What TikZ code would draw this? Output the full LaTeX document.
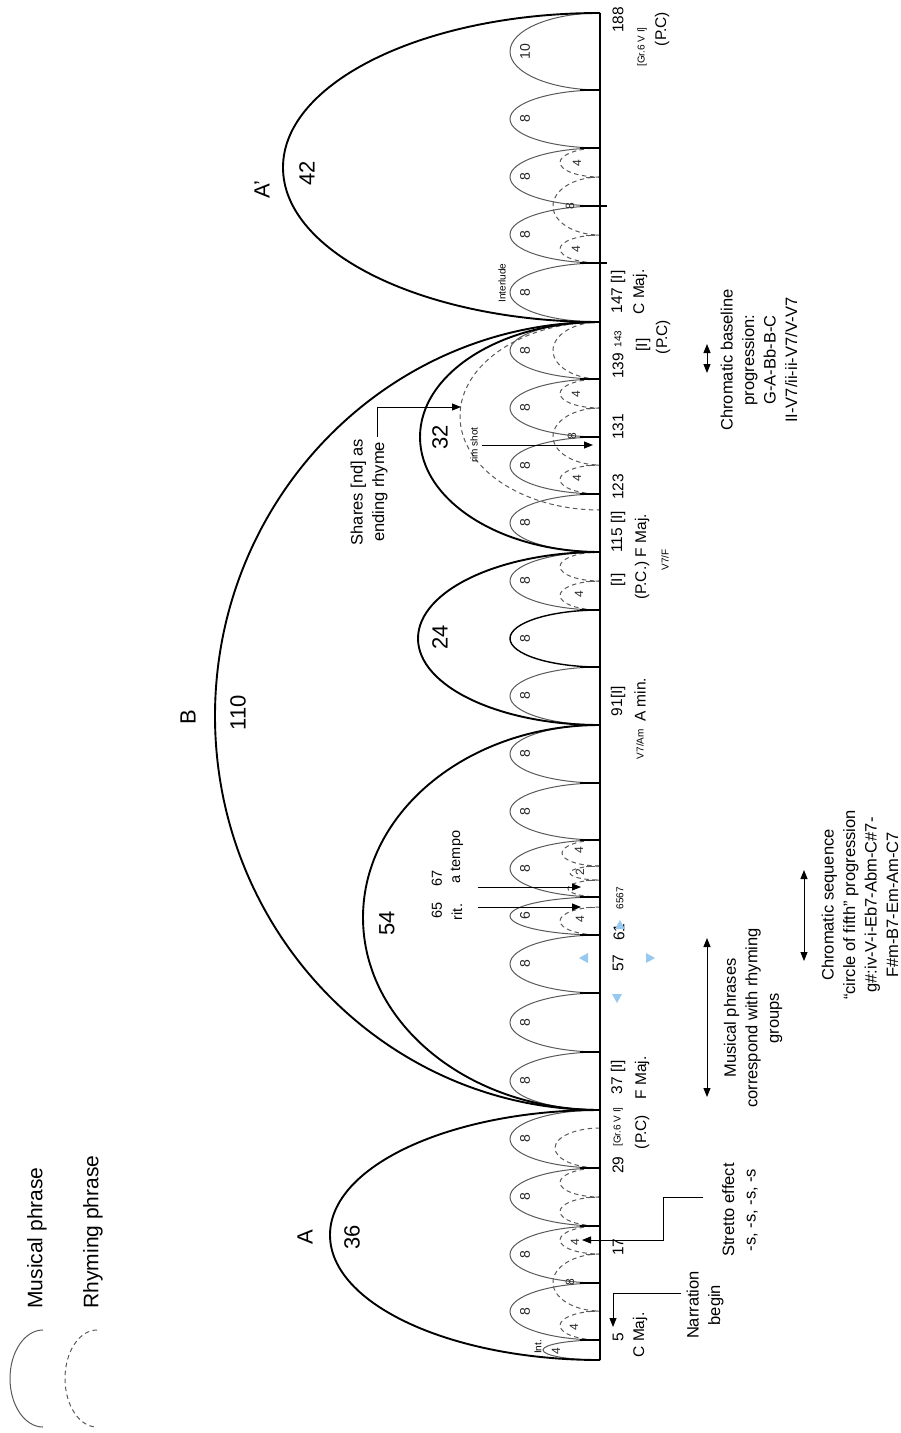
\documentclass[tikz,border=0pt]{standalone}
\usepackage{fontspec}
\setmainfont{Liberation Sans}
\usetikzlibrary{arrows.meta}
\definecolor{hblue}{RGB}{150,200,240}
\newcommand\MusArc[3]{\draw[mus] (600,#1) arc[start angle=90,end angle=270,x radius=90pt,y radius={(#2-#1)/2*1pt}];
  \node[arcno] at (525,{(#1+#2)/2}) {#3};}
\newcommand\RhyArc[3]{\draw[rhy] (600,#1) arc[start angle=90,end angle=270,x radius={(600-#3)*1pt},y radius={(#2-#1)/2*1pt}];}
\newcommand\SecArc[3]{\draw[sect] (600,#1) arc[start angle=90,end angle=270,x radius={(600-#3)*1pt},y radius={(#2-#1)/2*1pt}];}
\begin{document}
\begin{tikzpicture}[x=1pt,y=-1pt,
  mus/.style={draw=black!65, line width=1pt},
  rhy/.style={draw=black!65, line width=1pt, dash pattern=on 4.5pt off 3.5pt},
  sect/.style={draw=black, line width=1.9pt},
  lab/.style={rotate=90, inner sep=0pt, font=\fontsize{15.5}{18}\selectfont},
  tinylab/.style={rotate=90, inner sep=0pt, font=\fontsize{10}{12}\selectfont},
  arcno/.style={rotate=90, inner sep=0pt, font=\fontsize{14}{16}\selectfont, text=black!85},
  rhno/.style={rotate=90, inner sep=0pt, font=\fontsize{12}{14}\selectfont, text=black!85},
  secno/.style={rotate=90, inner sep=0pt, font=\fontsize{22}{26}\selectfont},
  ann/.style={rotate=90, inner sep=0pt, align=center, font=\fontsize{16.5}{21.5}\selectfont},
  arr/.style={draw=black, line width=1pt, -{Triangle[length=9pt,width=7pt]}},
  darr/.style={draw=black, line width=1pt, {Triangle[length=9pt,width=7pt]}-{Triangle[length=9pt,width=7pt]}},
  tickmark/.style={draw=black, line width=1.1pt},
  dtick/.style={draw=black!65, line width=1pt},
  handle/.style={fill=hblue, draw=none}
]
\useasboundingbox (0,0) rectangle (901,1433);

% ---------- musical phrases (grey arcs) ----------
\MusArc{13}{90}{10}
\MusArc{90}{148}{8}
\MusArc{148}{206}{8}
\MusArc{206}{263}{8}
\MusArc{263}{322}{8}
\MusArc{322}{379}{8}
\MusArc{379}{437}{8}
\MusArc{437}{494}{8}
\MusArc{494}{552}{8}
\MusArc{552}{610}{8}
\MusArc{667}{725}{8}
\MusArc{725}{783}{8}
\MusArc{783}{840}{8}
\MusArc{840}{897}{8}
\MusArc{897}{935}{6}
\MusArc{935}{993}{8}
\MusArc{993}{1052}{8}
\MusArc{1052}{1110}{8}
\MusArc{1110}{1168}{8}
\MusArc{1168}{1226}{8}
\MusArc{1226}{1283}{8}
\MusArc{1283}{1340}{8}
\draw[mus] (600,1340) arc[start angle=90,end angle=270,x radius=57pt,y radius=10pt];
\node[tinylab] at (538,1347) {Int.};
\node[rhno] at (556,1351) {4};
% darker phrase 99-107
\draw[draw=black, line width=1.4pt] (600,610) arc[start angle=90,end angle=270,x radius=90pt,y radius=28.5pt];
\node[arcno] at (525,638.5) {8};

% ---------- rhyming phrases (dashed arcs) ----------
\RhyArc{148}{177}{560} \node[rhno] at (577,163) {4};
\RhyArc{177}{235}{553} \node[rhno] at (570,206) {8};
\RhyArc{235}{263}{560} \node[rhno] at (576,249) {4};
\RhyArc{322}{379}{553}
\RhyArc{379}{408}{560} \node[rhno] at (576,394) {4};
\RhyArc{408}{465}{553} \node[rhno] at (572,436) {8};
\RhyArc{465}{494}{560} \node[rhno] at (577,478) {4};
\RhyArc{322}{510}{460}
\RhyArc{552}{581}{560}
\RhyArc{581}{610}{560} \node[rhno] at (579,594) {4};
\RhyArc{840}{866}{562} \node[rhno] at (579,850) {4};
\RhyArc{866}{880}{570} \node[rhno] at (580,872) {2};
\RhyArc{880}{897}{568}
\RhyArc{907}{935}{560} \node[rhno] at (580,919) {4};
\RhyArc{1128}{1168}{555}
\RhyArc{1168}{1197}{560}
\RhyArc{1197}{1226}{560}
\RhyArc{1226}{1254}{560} \node[rhno] at (575,1242) {4};
\RhyArc{1254}{1311}{553} \node[rhno] at (570,1282) {8};
\RhyArc{1311}{1340}{560} \node[rhno] at (574,1327) {4};

% ---------- sections (bold arcs) ----------
\SecArc{13}{322}{283}
\SecArc{322}{1110}{215}
\SecArc{322}{552}{420}
\SecArc{552}{725}{418}
\SecArc{725}{1110}{363}
\SecArc{1110}{1360}{330}
\node[secno] at (307,173) {42};
\node[secno] at (262,190) {A’};
\node[secno] at (238,713) {110};
\node[secno] at (188,717) {B};
\node[secno] at (440,437) {32};
\node[secno] at (440,637) {24};
\node[secno] at (387,923) {54};
\node[secno] at (352,1237) {36};
\node[secno] at (305,1237) {A};

% ---------- baseline and ticks ----------
\draw[draw=black, line width=2pt] (600,13) -- (600,1360);
\foreach \t in {90,148,322,379,437,494,552,610,667,725,783,840,897,935,993,1052,1110,1168,1226,1283,1340}
  \draw[tickmark] (580,\t) -- (600,\t);
\foreach \t in {206,263}
  \draw[tickmark] (580,\t) -- (607,\t);
\draw[tickmark] (600,13) -- (590,13);
\foreach \t in {177,235,408,465,581,866,880,907,1197,1254,1311}
  \draw[dtick] (586,\t) -- (595,\t);

% ---------- measure labels ----------
\node[lab] at (618,20) {188};
\node[tinylab] at (642,47) {[Gr.6 V I]};
\node[lab] at (662,29) {(P.C)};
\node[lab] at (618,292) {147 [I]};
\node[lab] at (640,292) {C Maj.};
\node[lab] at (618,366) {139};
\node[tinylab] at (618,339) {143};
\node[lab] at (643,345) {[I]};
\node[lab] at (663,337) {(P.C)};
\node[lab] at (618,427) {131};
\node[lab] at (618,487) {123};
\node[lab] at (618,532) {115 [I]};
\node[lab] at (618,580) {[I]};
\node[lab] at (642,557) {(P.C.) F Maj.};
\node[tinylab] at (665,560) {V7/F};
\node[lab] at (618,701) {91[I]};
\node[lab] at (640,700) {A min.};
\node[tinylab] at (640,744) {V7/Am};
\node[lab] at (619,932) {61};
\node[tinylab] at (620,898) {6567};
\node[lab] at (618,963) {57};
\node[lab] at (618,1077) {37 [I]};
\node[tinylab] at (618,1127) {[Gr.6 V I]};
\node[lab] at (618,1165) {29};
\node[lab] at (642,1078) {F Maj.};
\node[lab] at (642,1132) {(P.C)};
\node[lab] at (618,1247) {17};
\node[lab] at (618,1337) {5};
\node[lab] at (640,1335) {C Maj.};

% selection handles
\fill[handle] (579,958) -- (588,953) -- (588,963) -- cycle;
\fill[handle] (655,958) -- (646,953) -- (646,963) -- cycle;
\fill[handle] (617,1003) -- (612,994) -- (622,994) -- cycle;
\fill[handle] (620,920) -- (615,929) -- (625,929) -- cycle;

% ---------- small inner notes ----------
\node[tinylab] at (502,283) {Interlude};
\node[tinylab] (rim) at (474,445) {rim shot};
\coordinate (rimS) at (482,445);
\coordinate (rimE) at (593,445);
\draw[arr] (rimS) -- (rimE);

\node[lab, font=\fontsize{14.5}{17}\selectfont] (m65) at (437,910) {65};
\node[lab, font=\fontsize{14.5}{17}\selectfont] (m67) at (437,878) {67};
\node[lab, font=\fontsize{14.5}{17}\selectfont] (rit) at (457,912) {rit.};
\node[lab, font=\fontsize{14.5}{17}\selectfont] (atempo) at (457,857) {a tempo};
\coordinate (r65s) at (478,907);
\coordinate (r65e) at (581,907);
\coordinate (r67s) at (478,887);
\coordinate (r67e) at (581,887);
\draw[arr] (r65s) -- (r65e);
\draw[arr] (r67s) -- (r67e);

% ---------- annotations ----------
\node[ann] (shares) at (369,492) {Shares [nd] as\\ending rhyme};
\coordinate (shA) at (377,437);
\coordinate (shB) at (377,407);
\coordinate (shC) at (461,407);
\draw[arr] (shA) -- (shB) -- (shC);

\node[ann] (narr) at (705,1305) {Narration\\begin};
\coordinate (nA) at (681,1293);
\coordinate (nB) at (613,1293);
\coordinate (nC) at (613,1327);
\draw[arr] (nA) -- (nB) -- (nC);

\node[ann] (stretto) at (740,1210) {Stretto effect\\-s, -s, -s, -s};
\coordinate (sA) at (703,1197);
\coordinate (sB) at (663,1197);
\coordinate (sC) at (663,1240);
\coordinate (sD) at (582,1240);
\draw[arr] (sA) -- (sB) -- (sC) -- (sD);

\node[ann] (musc) at (753,1018) {Musical phrases\\correspond with rhyming\\groups};
\coordinate (mA) at (707,938);
\coordinate (mB) at (707,1097);
\draw[darr] (mA) -- (mB);

\node[ann] (chrs) at (860,905) {Chromatic sequence\\“circle of fifth” progression\\g\#:iv-V-i-Eb7-Abm-C\#7-\\F\#m-B7-Em-Am-C7};
\coordinate (cA) at (804,870);
\coordinate (cB) at (804,961);
\draw[darr] (cA) -- (cB);

\node[ann] (chrb) at (759,360) {Chromatic baseline\\progression:\\G-A-Bb-B-C\\II-V7/ii-ii-V7/V-V7};
\coordinate (bA) at (707,344);
\coordinate (bB) at (707,373);
\draw[darr] (bA) -- (bB);

% ---------- legend ----------
\draw[mus] (43,1330) arc[start angle=90,end angle=270,x radius=33pt,y radius=48.5pt];
\draw[rhy] (97,1330) arc[start angle=90,end angle=270,x radius=32pt,y radius=48.5pt];
\node[rotate=90, inner sep=0pt, font=\fontsize{21}{24}\selectfont] (lm) at (37,1238) {Musical phrase};
\node[rotate=90, inner sep=0pt, font=\fontsize{21}{24}\selectfont] (lr) at (93,1232) {Rhyming phrase};
\end{tikzpicture}
\end{document}
